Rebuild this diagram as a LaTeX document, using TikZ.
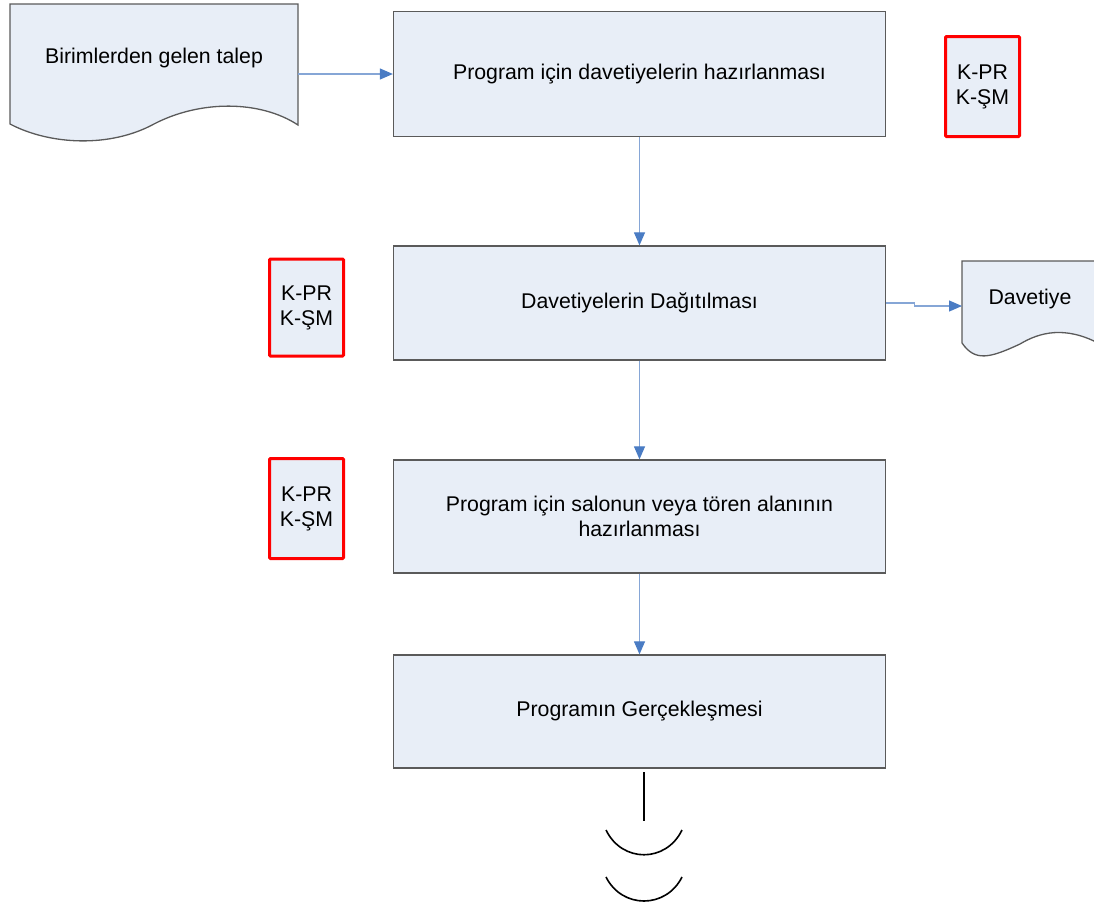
\documentclass[tikz,border=0pt]{standalone}
\usepackage{fontspec}
\setmainfont{Liberation Sans}
\usetikzlibrary{arrows.meta}
\definecolor{boxfill}{HTML}{E8EEF7}
\definecolor{boxline}{HTML}{5A5A5A}
\definecolor{linkline}{HTML}{86A6D6}
\definecolor{tipblue}{HTML}{4A7CC4}
\tikzset{
  x=1pt, y=-1pt,
  every node/.style={font=\fontsize{21.3}{25}\selectfont, align=center, inner sep=0pt},
  stepbox/.style={draw=boxline, fill=boxfill, line width=1.3pt, minimum width=492pt, minimum height=125pt},
  codebox/.style={draw=red, fill=boxfill, line width=3pt, rounded corners=1pt, minimum width=74pt, minimum height=99pt},
  docshape/.style={draw=boxline, fill=boxfill, line width=1.3pt},
  link/.style={draw=linkline, line width=1.2pt, -{Triangle[length=13pt,width=11pt,color=tipblue]}},
  endmark/.style={draw=black, line width=1.6pt}
}
\begin{document}
\begin{tikzpicture}
\useasboundingbox (0,0) rectangle (1094,911);
% documents (outlines)
\path[docshape] (10,4) -- (298,4) -- (298,125)
  .. controls (260,100) and (200,100) .. (154,124)
  .. controls (110,148) and (50,145) .. (10,124) -- cycle;
\path[docshape] (962,261) -- (1110,261) -- (1110,343) -- (1098,343)
  .. controls (1065,326) and (1040,332) .. (1020,344)
  .. controls (990,358) and (975,362) .. (962,343) -- cycle;
% text of documents
\node[minimum width=288pt, minimum height=104pt] (talep) at (154,58) {Birimlerden gelen talep};
\node[minimum width=136pt, minimum height=72pt] (dav) at (1030,299) {Davetiye};
\coordinate (davin) at (962,306);
% process boxes
\node[stepbox] (b1) at (639.5,74) {\raisebox{-2pt}{Program için davetiyelerin hazırlanması}};
\node[stepbox, minimum height=114pt] (b2) at (639.5,303) {\raisebox{-2pt}{Davetiyelerin Dağıtılması}};
\node[stepbox, minimum height=113pt] (b3) at (639.5,516.5) {Program için salonun veya tören alanının\\hazırlanması};
\node[stepbox, minimum height=113pt] (b4) at (639.5,711.5) {\raisebox{-2pt}{Programın Gerçekleşmesi}};
% code boxes
\node[codebox, minimum height=100pt] (k1) at (982.5,86.5) {K-PR\\K-ŞM};
\node[codebox, minimum height=97pt] (k2) at (306.5,307.5) {K-PR\\K-ŞM};
\node[codebox, minimum height=100pt] (k3) at (306.5,508.5) {K-PR\\K-ŞM};
% connectors
\draw[link] (talep.east |- b1.west) -- (b1.west);
\draw[link] (b1.south) -- (b2.north);
\draw[link] (b2.south) -- (b3.north);
\draw[link] (b3.south) -- (b4.north);
\draw[link] (b2.east) -- ++(28,0) -- ++(0,3) -- (davin);
% off-page continuation marks
\coordinate (c1) at (644,772);
\coordinate (c2) at (644,821);
\draw[endmark] (c1) -- (c2);
\draw[endmark] (606,830) .. controls (622,863) and (666,863) .. (682,830);
\draw[endmark] (606,877) .. controls (622,909) and (666,909) .. (682,877);
\end{tikzpicture}
\end{document}
